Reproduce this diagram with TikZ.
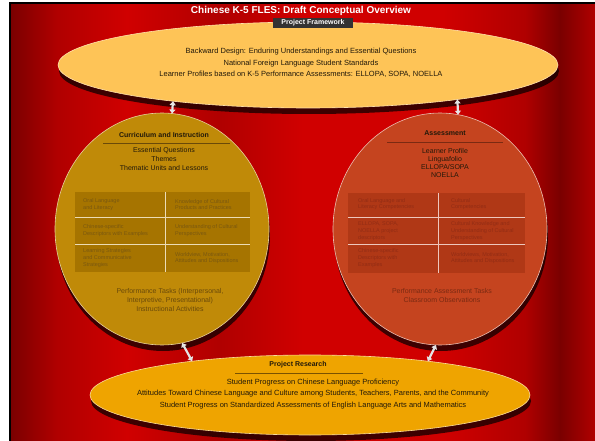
\documentclass[tikz,border=0pt]{standalone}
\usepackage{fontspec}
\setmainfont{Liberation Sans}
\usetikzlibrary{shapes.geometric,shadows,arrows.meta}

\definecolor{bgdark}{HTML}{7A0000}
\definecolor{bgmid}{HTML}{B00000}
\definecolor{bgbright}{HTML}{D00000}
\definecolor{frameyellow}{HTML}{FEC457}
\definecolor{researchorange}{HTML}{EFA400}
\definecolor{currgold}{HTML}{C08A08}
\definecolor{currgrid}{HTML}{A67400}
\definecolor{currtext}{HTML}{7A5810}
\definecolor{currline}{HTML}{6A4A08}
\definecolor{assessred}{HTML}{C5441F}
\definecolor{assessgrid}{HTML}{B03816}
\definecolor{assesstext}{HTML}{922C14}
\definecolor{assessline}{HTML}{7B2A12}
\definecolor{researchline}{HTML}{7A5200}
\definecolor{darkbrown}{HTML}{22190A}

\pgfdeclarehorizontalshading{silkred}{100bp}{color(0bp)=(bgdark); color(25bp)=(bgdark);
  color(29bp)=(bgmid); color(35bp)=(bgbright); color(43bp)=(bgmid); color(50bp)=(bgbright);
  color(62bp)=(bgbright); color(69bp)=(bgmid); color(72bp)=(bgdark); color(75bp)=(bgmid);
  color(100bp)=(bgmid)}

\tikzset{
  bubble/.style={ellipse, inner sep=0pt, outer sep=0pt, draw=#1, line width=0.6pt,
    drop shadow={shadow xshift=1pt, shadow yshift=-6pt, opacity=0.7, fill=black}},
  titletext/.style={font=\bfseries\fontsize{10}{12}\selectfont, text=white},
  tagbox/.style={fill=black!80, text=white, font=\bfseries\fontsize{7}{8}\selectfont,
    minimum width=80pt, minimum height=10pt, inner sep=1pt},
  maintext/.style={font=\fontsize{7.5}{11.5}\selectfont, text=darkbrown, align=center},
  headtext/.style={font=\bfseries\fontsize{7}{8}\selectfont, text=darkbrown},
  circtext/.style={font=\fontsize{7}{9}\selectfont, align=center},
  celltext/.style={font=\fontsize{5.5}{6.8}\selectfont, align=left, anchor=west, inner sep=0pt},
  gridline/.style={draw=#1, line width=0.8pt},
  link/.style={draw=gray!20, line width=2.2pt,
    {Triangle[length=4pt,width=6pt]}-{Triangle[length=4pt,width=6pt]}}
}

\begin{document}
\begin{tikzpicture}[x=1pt, y=-1pt]
    \useasboundingbox (0,0) rectangle (595,441);
    % Background
    \shade[shading=silkred] (10,3) rectangle (595,441);
    \draw[black, line width=1.6pt] (10,441) -- (10,3) -- (595,3);
    % Title
    \node[titletext] (title) at (301,11) {Chinese K-5 FLES: Draft Conceptual Overview};

    % Top ellipse
    \node[bubble=frameyellow!50!white, fill=frameyellow, minimum width=500pt, minimum height=86pt] (frame) at (308,65) {};
    \node[tagbox] (tag) at (313,23) {Project Framework};
    \node[maintext] (frametext) at (301,63) {Backward Design: Enduring Understandings and Essential Questions\\
        National Foreign Language Student Standards\\
        Learner Profiles based on K-5 Performance Assessments: ELLOPA, SOPA, NOELLA};

    % Left circle
    \node[bubble=currgold!40!white, fill=currgold, minimum width=214pt, minimum height=232pt] (curr) at (162,229) {};
    \node[headtext] (currhead) at (164,135) {Curriculum and Instruction};
    \draw[currline, line width=0.6pt] (103,143) -- (230,143);
    \node[circtext, text=darkbrown] (currtop) at (164,159) {Essential Questions\\Themes\\Thematic Units and Lessons};
    \fill[currgrid] (75,192) rectangle (250,272);
    \draw[gridline=currgold!30!white] (165,192) -- (165,272);
    \draw[gridline=currgold!30!white] (75,217) -- (250,217);
    \draw[gridline=currgold!30!white] (75,244) -- (250,244);
    \node[celltext, text=currtext] (c11) at (83,204.5) {Oral Language\\and Literacy};
    \node[celltext, text=currtext] (c12) at (175,204.5) {Knowledge of Cultural\\Products and Practices};
    \node[celltext, text=currtext] (c21) at (83,230.5) {Chinese-specific\\Descriptors with Examples};
    \node[celltext, text=currtext] (c22) at (175,230.5) {Understanding of Cultural\\Perspectives};
    \node[celltext, text=currtext] (c31) at (83,258) {Learning Strategies\\and Communicative\\Strategies};
    \node[celltext, text=currtext] (c32) at (175,258) {Worldview, Motivation,\\Attitudes and Dispositions};
    \node[circtext, text=currline] (currbottom) at (170,300) {Performance Tasks (Interpersonal,\\Interpretive, Presentational)\\Instructional Activities};

    % Right circle
    \node[bubble=assessred!35!white, fill=assessred, minimum width=214pt, minimum height=232pt] (assess) at (440,229) {};
    \node[headtext] (assesshead) at (445,133) {Assessment};
    \draw[assessline, line width=0.6pt] (387,142) -- (503,142);
    \node[circtext, text=darkbrown, font=\fontsize{7}{8}\selectfont] (assesstop) at (445,163) {Learner Profile\\Linguafolio\\ELLOPA/SOPA\\NOELLA};
    \fill[assessgrid] (348,193) rectangle (525,273);
    \draw[gridline=assessred!30!white] (438,193) -- (438,273);
    \draw[gridline=assessred!30!white] (348,217) -- (525,217);
    \draw[gridline=assessred!30!white] (348,244) -- (525,244);
    \node[celltext, text=assesstext] (a11) at (358,204) {Oral Language and\\Literacy Competencies};
    \node[celltext, text=assesstext] (a12) at (451,204) {Cultural\\Competencies};
    \node[celltext, text=assesstext] (a21) at (358,231) {ELLOPA, SOPA,\\NOELLA project\\descriptors};
    \node[celltext, text=assesstext] (a22) at (451,231) {Cultural Knowledge and\\Understanding of Cultural\\Perspectives};
    \node[celltext, text=assesstext] (a31) at (358,258) {Chinese-specific\\Descriptors with\\Examples};
    \node[celltext, text=assesstext] (a32) at (451,258) {Worldviews, Motivation,\\Attitudes and Dispositions};
    \node[circtext, text=assessline] (assessbottom) at (442,295.5) {Performance Assessment Tasks\\Classroom Observations};

    % Bottom ellipse
    \node[bubble=researchorange!40!white, fill=researchorange, minimum width=440pt, minimum height=80pt] (research) at (310,395) {};
    \node[headtext] (researchhead) at (298,365) {Project Research};
    \draw[researchline, line width=0.6pt] (235,373) -- (363,373);
    \node[maintext] (researchtext) at (313,394) {Student Progress on Chinese Language Proficiency\\
        Attitudes Toward Chinese Language and Culture among Students, Teachers, Parents, and the Community\\
        Student Progress on Standardized Assessments of English Language Arts and Mathematics};

    % Arrows
    \draw[link] (frame.195) -- (curr.85);
    \draw[link] (frame.347) -- (assess.81);
    \draw[link] (curr.280) -- (research.164);
    \draw[link] (assess.268) -- (research.16);
\end{tikzpicture}
\end{document}
